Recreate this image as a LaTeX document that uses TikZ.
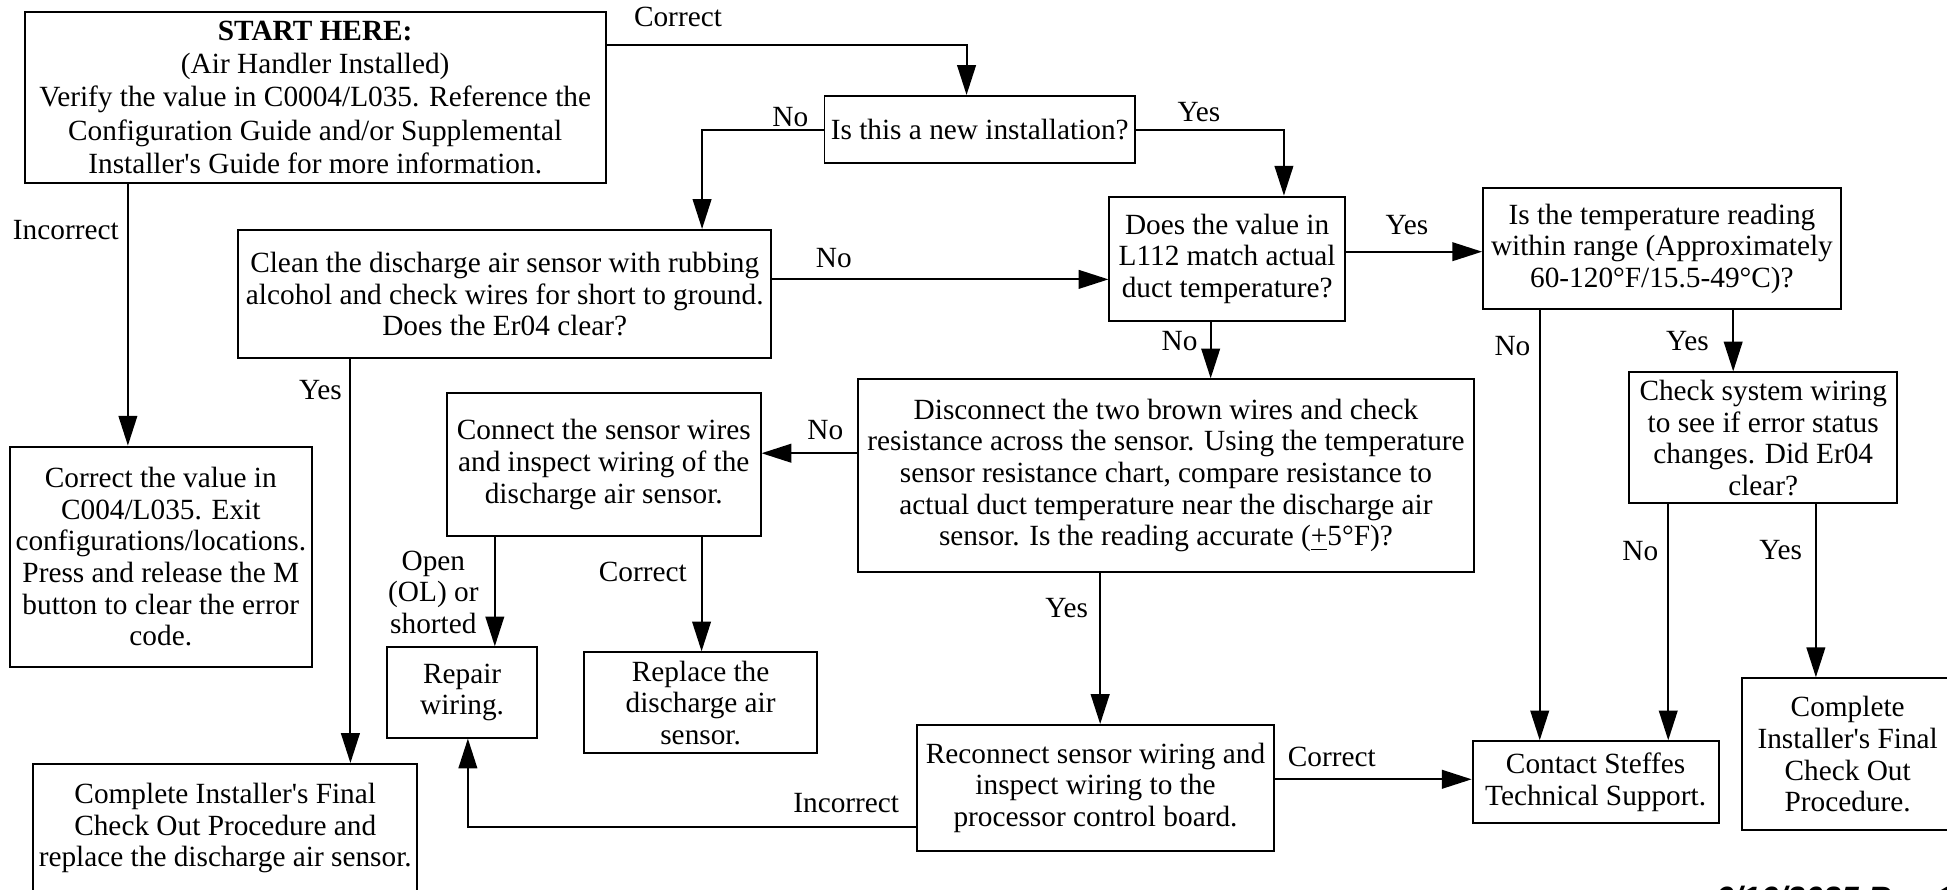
\documentclass[tikz,border=0pt]{standalone}
\usepackage{fontspec}
\setmainfont{Liberation Serif}
\newfontfamily\datefont{Liberation Sans}
\usetikzlibrary{arrows.meta}
\newcommand{\fs}{\fontsize{11.8pt}{12.75pt}\selectfont}
\newcommand{\q}{\textquotesingle}
\tikzset{
  box/.style={draw, line width=0.8pt, align=center, inner sep=0pt, font=\fs},
  lbl/.style={inner sep=0pt, align=center, font=\fs},
  arr/.style={line width=0.8pt, -{Triangle[length=12pt,width=7.5pt]}},
}
\begin{document}
\begin{tikzpicture}[x=0.5pt, y=-0.5pt]
    \useasboundingbox (0,0) rectangle (1568,716);

    % 方框
    \node[box, minimum width=234pt, minimum height=69.1pt, font=\fontsize{11.8pt}{13.4pt}\selectfont] (start) at (253.85,78.5)
        {\textbf{START HERE:}\\(Air Handler Installed)\\Verify the value in C0004/L035. Reference the\\Configuration Guide and/or Supplemental\\Installer\q s Guide for more information.};
    \node[box, minimum width=125pt, minimum height=27.1pt] (isnew) at (789,104.4) {Is this a new installation?};
    \node[box, minimum width=214.8pt, minimum height=51.7pt] (clean) at (406.5,236.9)
        {Clean the discharge air sensor with rubbing\\alcohol and check wires for short to ground.\\Does the Er04 clear?};
    \node[box, minimum width=94.75pt, minimum height=50pt] (match) at (988.25,208.35)
        {Does the value in\\L112 match actual\\duct temperature?};
    \node[box, minimum width=144pt, minimum height=48.7pt] (range) at (1338.4,200.4)
        {Is the temperature reading\\within range (Approximately\\60-120°F/15.5-49°C)?};
    \node[box, minimum width=108pt, minimum height=52.75pt] (syswire) at (1420,352.65)
        {Check system wiring\\to see if error status\\changes. Did Er04\\clear?};
    \node[box, minimum width=99pt, minimum height=33pt] (support) at (1285,630)
        {Contact Steffes\\Technical Support.};
    \node[box, minimum width=85pt, minimum height=61.3pt] (finalR) at (1488,607.5)
        {Complete\\Installer\q s Final\\Check Out\\Procedure.};
    \node[box, minimum width=248pt, minimum height=77.45pt] (sensor) at (939,382.95)
        {Disconnect the two brown wires and check\\resistance across the sensor. Using the temperature\\sensor resistance chart, compare resistance to\\actual duct temperature near the discharge air\\sensor. Is the reading accurate (\underline{+}5°F)?};
    \node[box, minimum width=126.25pt, minimum height=57.75pt] (connect) at (486.25,373.95)
        {Connect the sensor wires\\and inspect wiring of the\\discharge air sensor.};
    \node[box, minimum width=60.15pt, minimum height=36.35pt] (repair) at (372.15,557.65) {Repair\\wiring.};
    \node[box, minimum width=93.65pt, minimum height=40.65pt] (replace) at (564.25,566)
        {Replace the\\discharge air\\sensor.};
    \node[box, minimum width=143.75pt, minimum height=50.55pt] (reconnect) at (882.25,634.45)
        {Reconnect sensor wiring and\\inspect wiring to the\\processor control board.};
    \node[box, minimum width=121.5pt, minimum height=88.65pt] (fixval) at (129.5,448.35)
        {Correct the value in\\C004/L035. Exit\\configurations/locations.\\Press and release the M\\button to clear the error\\code.};
    \node[box, minimum width=154.6pt, minimum height=51.7pt] (finalL) at (181.4,667)
        {Complete Installer\q s Final\\Check Out Procedure and\\replace the discharge air sensor.};

    % 標籤
    \node[lbl] (lcorrect1) at (546,14) {Correct};
    \node[lbl] (lno1) at (636.5,94) {No};
    \node[lbl] (lyes1) at (965.5,90) {Yes};
    \node[lbl] (lno2) at (671.5,208) {No};
    \node[lbl] (lyes2) at (1133,181) {Yes};
    \node[lbl] (lno3) at (950,275) {No};
    \node[lbl] (lno4) at (1218,279) {No};
    \node[lbl] (lyes3) at (1359,275) {Yes};
    \node[lbl] (lno5) at (1321,444) {No};
    \node[lbl] (lyes4) at (1434,443) {Yes};
    \node[lbl] (lno6) at (664.6,346.3) {No};
    \node[lbl] (lopen) at (349,477) {Open\\(OL) or\\shorted};
    \node[lbl] (lcorrect2) at (517.7,460.4) {Correct};
    \node[lbl] (lyes5) at (859,490) {Yes};
    \node[lbl] (lcorrect3) at (1072.5,609.4) {Correct};
    \node[lbl] (lincorrect1) at (681.5,647) {Incorrect};
    \node[lbl] (lincorrect2) at (53,185) {Incorrect};
    \node[lbl] (lyes6) at (258,314) {Yes};
    \node[anchor=base west, inner sep=0pt, font={\datefont\fontsize{13pt}{15pt}\selectfont\bfseries\itshape}] (date) at (1381,732.3) {6/16/2025 Rev 1};

    % 轉角的位置
    \coordinate (kcorr) at (778.4,36.2);
    \coordinate (kno1) at (565.4,0);
    \coordinate (kyes1) at (1034,0);
    \coordinate (kcd) at (0,225);
    \coordinate (kmr) at (0,202.7);
    \coordinate (kms) at (975,0);
    \coordinate (krs) at (1240,0);
    \coordinate (krw) at (1395.8,0);
    \coordinate (kws) at (1343.5,0);
    \coordinate (kwf) at (1462.4,0);
    \coordinate (ksc) at (0,365);
    \coordinate (kcr) at (398.5,0);
    \coordinate (kcp) at (565,0);
    \coordinate (ksr) at (886,0);
    \coordinate (krc) at (0,627.6);
    \coordinate (kinc) at (376.8,666);
    \coordinate (kfix) at (103,0);
    \coordinate (kfin) at (282.2,0);

    % 畫出箭頭
    \draw[arr] (start.east |- kcorr) -- (kcorr) -- (kcorr |- isnew.north);
    \draw[arr] (isnew.west) -| (kno1 |- clean.north);
    \draw[arr] (isnew.east) -| (kyes1 |- match.north);
    \draw[arr] (clean.east |- kcd) -- (match.west |- kcd);
    \draw[arr] (match.east |- kmr) -- (range.west |- kmr);
    \draw[arr] (match.south -| kms) -- (sensor.north -| kms);
    \draw[arr] (range.south -| krs) -- (support.north -| krs);
    \draw[arr] (range.south -| krw) -- (syswire.north -| krw);
    \draw[arr] (syswire.south -| kws) -- (support.north -| kws);
    \draw[arr] (syswire.south -| kwf) -- (finalR.north -| kwf);
    \draw[arr] (sensor.west |- ksc) -- (connect.east |- ksc);
    \draw[arr] (connect.south -| kcr) -- (repair.north -| kcr);
    \draw[arr] (connect.south -| kcp) -- (replace.north -| kcp);
    \draw[arr] (sensor.south -| ksr) -- (reconnect.north -| ksr);
    \draw[arr] (reconnect.east |- krc) -- (support.west |- krc);
    \draw[arr] (reconnect.west |- kinc) -| (repair.south -| kinc);
    \draw[arr] (start.south -| kfix) -- (fixval.north -| kfix);
    \draw[arr] (clean.south -| kfin) -- (finalL.north -| kfin);
\end{tikzpicture}
\end{document}
